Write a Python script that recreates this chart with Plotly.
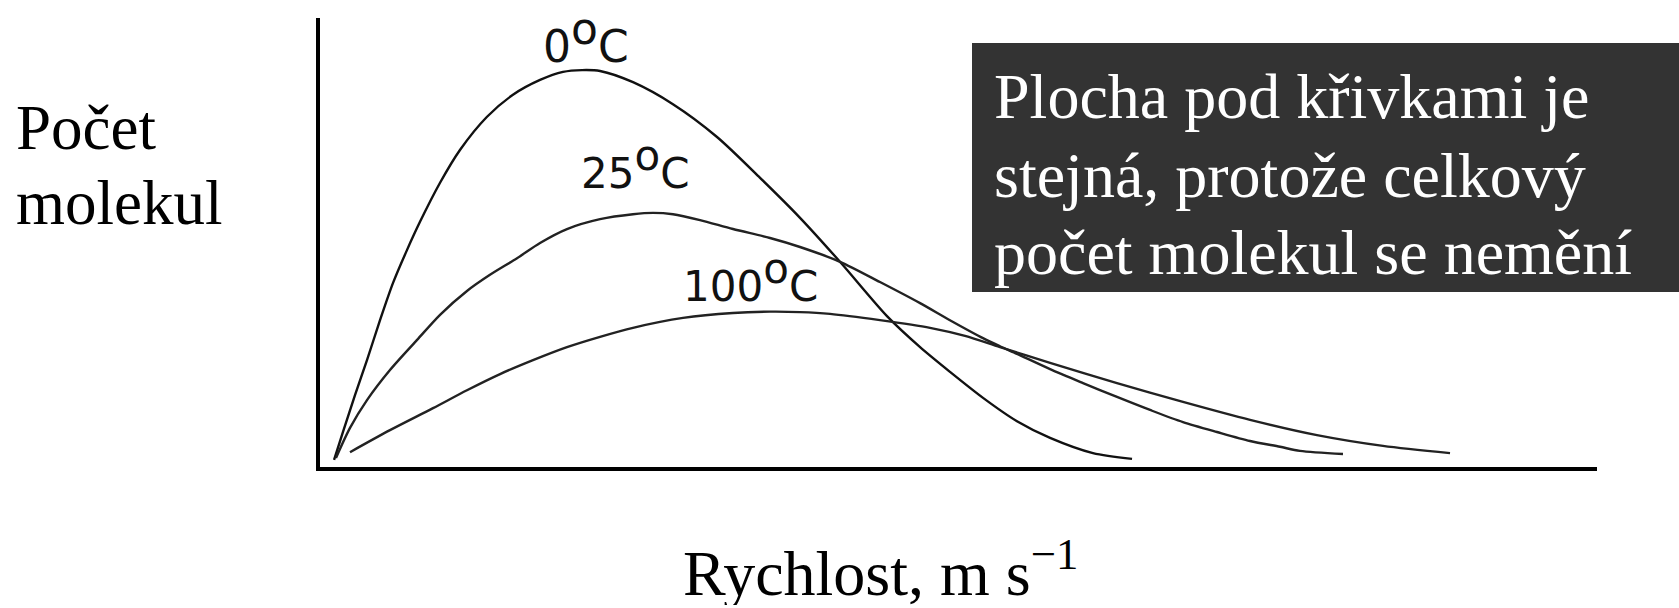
import plotly.graph_objects as go

# ---- data (arbitrary units: speed 0..1000, molecule count 0..100) ----
speed_0C = [11.0, 18.0, 27.4, 36.8, 47.0, 57.2, 68.1, 78.3, 94.0, 109.6, 130.8, 151.1, 172.3, 190.3,
            205.2, 219.3, 245.1, 276.4, 310.9, 344.6, 375.9, 407.2, 444.0, 469.9, 493.3, 519.2,
            545.8, 571.7, 605.3, 635.9]
count_0C = [1.6, 7.8, 16.0, 23.8, 32.7, 41.0, 48.3, 54.6, 63.3, 70.6, 78.0, 82.9, 86.2, 88.0,
            88.4, 88.2, 85.7, 80.8, 73.5, 64.4, 55.5, 45.7, 33.6, 26.7, 21.2, 15.4,
            10.2, 6.5, 3.1, 1.8]

speed_25C = [12.5, 23.5, 36.8, 54.8, 76.0, 94.0, 115.1, 133.1, 154.3, 172.3, 193.4, 219.3, 245.1,
             260.8, 276.4, 297.6, 323.4, 352.4, 375.9, 407.2, 438.5, 469.9, 493.3, 519.2, 532.5,
             545.8, 571.7, 597.5, 624.1, 650.0, 675.8, 702.4, 728.3, 751.8, 767.4, 801.1]
count_25C = [2.0, 8.7, 14.9, 21.6, 28.3, 33.9, 39.2, 42.8, 46.5, 49.9, 53.0, 55.2, 56.3,
             56.6, 56.3, 55.0, 53.0, 51.0, 49.0, 45.7, 41.2, 36.5, 32.7, 28.7, 26.9,
             25.2, 21.8, 18.7, 15.6, 12.7, 10.0, 7.8, 5.8, 4.5, 3.6, 2.9]

speed_100C = [23.5, 54.8, 88.5, 115.1, 141.0, 166.8, 193.4, 219.3, 245.1, 284.3, 323.4, 352.4,
              375.9, 399.4, 438.5, 477.7, 505.1, 532.5, 571.7, 624.1, 675.8, 728.3, 780.7, 832.4, 884.9]
count_100C = [3.3, 8.2, 13.1, 17.1, 20.7, 23.8, 26.7, 29.0, 31.0, 33.2, 34.3, 34.6,
              34.5, 34.1, 32.7, 31.0, 29.2, 26.7, 23.2, 18.7, 14.5, 10.5, 7.1, 4.7, 3.1]

label_numbers = ["0", "25", "100"]

y_title_lines = ["Počet", "molekul"]
x_title = "Rychlost, m s<sup>−1</sup>"
note_lines = ["Plocha pod křivkami je", "stejná, protože celkový", "počet molekul se nemění"]

# ---- figure geometry ----
W, H = 1679, 608
L, R, T, B = 320, 82, 18, 141
PW, PH = W - L - R, H - T - B


def px(x):
    return (x - L) / PW


def py(y):
    return (H - B - y) / PH


fig = go.Figure()
for xs, ys, col in [(speed_0C, count_0C, "#111111"),
                    (speed_25C, count_25C, "#222222"),
                    (speed_100C, count_100C, "#222222")]:
    fig.add_trace(go.Scatter(x=xs, y=ys, mode="lines",
                             line=dict(color=col, width=2.4, shape="spline", smoothing=0.8),
                             showlegend=False, hoverinfo="skip"))

serif = "Liberation Serif, Times New Roman, serif"
sans = "DejaVu Sans, Arial, sans-serif"

annotations = []
# curve labels
for num, (cx, cy), fs in zip(label_numbers, [(586, 38), (635, 164), (750, 277)], [44, 42, 42]):
    annotations.append(dict(
        x=px(cx), y=py(cy), xref="paper", yref="paper", showarrow=False,
        xanchor="center", yanchor="middle",
        text=num + "<sup><span style='font-size:%dpx'>o</span></sup>C" % fs,
        font=dict(family=sans, size=fs, color="#111111")))

# y title lines
for line, cy in zip(y_title_lines, [128, 203]):
    annotations.append(dict(x=px(14), y=py(cy), xref="paper", yref="paper", showarrow=False,
                            xanchor="left", yanchor="middle", text=line,
                            font=dict(family=serif, size=63, color="black")))

# x title
annotations.append(dict(x=px(880), y=py(569), xref="paper", yref="paper", showarrow=False,
                        xanchor="center", yanchor="middle", text=x_title,
                        height=72, valign="middle", borderpad=0,
                        font=dict(family=serif, size=64, color="black")))

# note lines in dark box
for line, cy in zip(note_lines, [97, 175, 252]):
    annotations.append(dict(x=px(992), y=py(cy), xref="paper", yref="paper", showarrow=False,
                            xanchor="left", yanchor="middle", text=line,
                            font=dict(family=serif, size=64, color="white")))

fig.update_layout(
    width=W, height=H,
    margin=dict(l=L, r=R, t=T, b=B, pad=0),
    paper_bgcolor="white", plot_bgcolor="white",
    xaxis=dict(range=[0, 1000], showgrid=False, zeroline=False, showticklabels=False,
               ticks="", showline=True, linecolor="black", linewidth=4, fixedrange=True),
    yaxis=dict(range=[0, 100], showgrid=False, zeroline=False, showticklabels=False,
               ticks="", showline=True, linecolor="black", linewidth=4, fixedrange=True),
    shapes=[dict(type="rect", xref="paper", yref="paper",
                 x0=px(972), x1=px(1679), y0=py(292), y1=py(43),
                 fillcolor="#333333", line=dict(width=0), layer="below")],
    annotations=annotations,
)

fig.write_html("out.html", config={"displayModeBar": False},
               post_script="document.body.style.margin='0';document.body.style.overflow='hidden';")
